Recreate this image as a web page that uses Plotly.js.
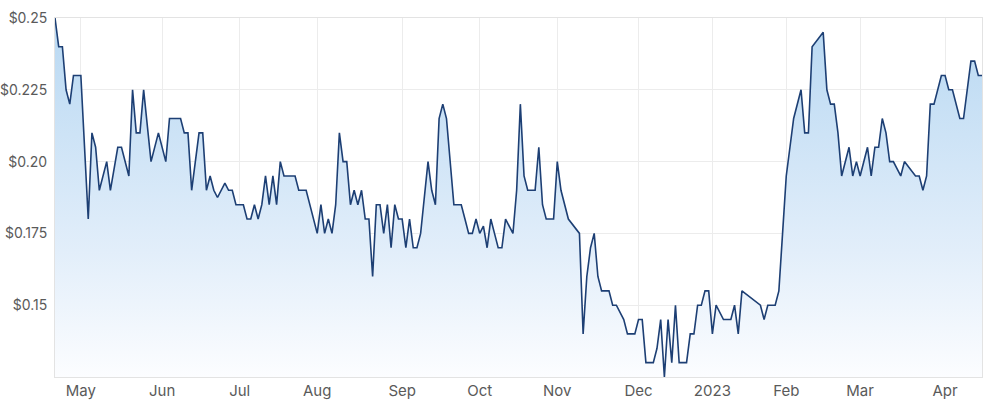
<!DOCTYPE html>
<html>
<head>
<meta charset="utf-8">
<script src="https://cdn.plot.ly/plotly-3.0.1.min.js"></script>
<style>
  html, body { margin: 0; padding: 0; background: #fff; }
  #chart { width: 1000px; height: 409px; }
</style>
</head>
<body>
<div id="chart"></div>
<script>
'use strict';
/* Share price, one year of trading days (turning points) */
var dates = [
  '2022-04-20', '2022-04-21', '2022-04-22', '2022-04-26', '2022-04-27', '2022-04-28', '2022-05-02',
  '2022-05-04', '2022-05-05', '2022-05-06', '2022-05-09', '2022-05-11', '2022-05-12', '2022-05-16',
  '2022-05-17', '2022-05-19', '2022-05-20', '2022-05-23', '2022-05-24', '2022-05-25', '2022-05-27',
  '2022-05-31', '2022-06-02', '2022-06-03', '2022-06-08', '2022-06-09', '2022-06-10', '2022-06-14',
  '2022-06-16', '2022-06-17', '2022-06-20', '2022-06-21', '2022-06-22', '2022-06-23', '2022-06-27',
  '2022-06-28', '2022-06-29', '2022-06-30', '2022-07-04', '2022-07-05', '2022-07-06', '2022-07-07',
  '2022-07-08', '2022-07-11', '2022-07-12', '2022-07-13', '2022-07-14', '2022-07-15', '2022-07-18',
  '2022-07-19', '2022-07-22', '2022-07-25', '2022-07-27', '2022-07-28', '2022-08-01', '2022-08-02',
  '2022-08-03', '2022-08-04', '2022-08-05', '2022-08-08', '2022-08-09', '2022-08-10', '2022-08-11',
  '2022-08-12', '2022-08-15', '2022-08-16', '2022-08-17', '2022-08-18', '2022-08-19', '2022-08-22',
  '2022-08-23', '2022-08-24', '2022-08-25', '2022-08-26', '2022-08-29', '2022-08-30', '2022-08-31',
  '2022-09-01', '2022-09-02', '2022-09-05', '2022-09-06', '2022-09-07', '2022-09-08', '2022-09-12',
  '2022-09-13', '2022-09-14', '2022-09-15', '2022-09-16', '2022-09-19', '2022-09-21', '2022-09-26',
  '2022-09-27', '2022-09-28', '2022-09-29', '2022-09-30', '2022-10-03', '2022-10-04', '2022-10-05',
  '2022-10-06', '2022-10-07', '2022-10-10', '2022-10-11', '2022-10-12', '2022-10-14', '2022-10-17',
  '2022-10-18', '2022-10-19', '2022-10-20', '2022-10-24', '2022-10-25', '2022-10-26', '2022-10-27',
  '2022-10-31', '2022-11-01', '2022-11-02', '2022-11-04', '2022-11-09', '2022-11-10', '2022-11-11',
  '2022-11-14', '2022-11-15', '2022-11-16', '2022-11-17', '2022-11-21', '2022-11-22', '2022-11-23',
  '2022-11-25', '2022-11-28', '2022-11-30', '2022-12-01', '2022-12-02', '2022-12-05', '2022-12-07',
  '2022-12-08', '2022-12-09', '2022-12-12', '2022-12-13', '2022-12-14', '2022-12-15', '2022-12-16',
  '2022-12-20', '2022-12-21', '2022-12-22', '2022-12-23', '2022-12-28', '2022-12-29', '2022-12-30',
  '2023-01-03', '2023-01-04', '2023-01-06', '2023-01-10', '2023-01-11', '2023-01-12', '2023-01-13',
  '2023-01-20', '2023-01-23', '2023-01-24', '2023-01-27', '2023-01-30', '2023-01-31', '2023-02-01',
  '2023-02-02', '2023-02-03', '2023-02-07', '2023-02-08', '2023-02-09', '2023-02-10', '2023-02-15',
  '2023-02-16', '2023-02-17', '2023-02-20', '2023-02-21', '2023-02-22', '2023-02-24', '2023-02-27',
  '2023-02-28', '2023-03-01', '2023-03-03', '2023-03-06', '2023-03-07', '2023-03-08', '2023-03-09',
  '2023-03-10', '2023-03-13', '2023-03-14', '2023-03-16', '2023-03-17', '2023-03-22', '2023-03-23',
  '2023-03-24', '2023-03-27', '2023-03-28', '2023-03-29', '2023-03-31', '2023-04-03', '2023-04-04',
  '2023-04-05', '2023-04-11', '2023-04-12', '2023-04-14', '2023-04-17', '2023-04-18', '2023-04-19'
];

var prices = [
  0.25, 0.24, 0.24, 0.225, 0.22, 0.23, 0.23,
  0.18, 0.21, 0.205, 0.19, 0.20, 0.19, 0.205,
  0.205, 0.195, 0.225, 0.21, 0.21, 0.225, 0.20,
  0.21, 0.20, 0.215, 0.215, 0.21, 0.21, 0.19,
  0.21, 0.21, 0.19, 0.195, 0.19, 0.1875, 0.1925,
  0.19, 0.19, 0.185, 0.185, 0.18, 0.18, 0.185,
  0.18, 0.185, 0.195, 0.185, 0.195, 0.185, 0.20,
  0.195, 0.195, 0.19, 0.19, 0.185, 0.175, 0.185,
  0.175, 0.18, 0.175, 0.185, 0.21, 0.20, 0.20,
  0.185, 0.19, 0.185, 0.19, 0.18, 0.18, 0.16,
  0.185, 0.185, 0.175, 0.185, 0.17, 0.185, 0.18,
  0.18, 0.17, 0.18, 0.17, 0.17, 0.175, 0.20,
  0.19, 0.185, 0.215, 0.22, 0.215, 0.185, 0.185,
  0.18, 0.175, 0.175, 0.18, 0.175, 0.1775, 0.17,
  0.18, 0.175, 0.17, 0.17, 0.18, 0.175, 0.19,
  0.22, 0.195, 0.19, 0.19, 0.205, 0.185, 0.18,
  0.18, 0.20, 0.19, 0.18, 0.175, 0.14, 0.16,
  0.17, 0.175, 0.16, 0.155, 0.155, 0.15, 0.15,
  0.145, 0.14, 0.14, 0.145, 0.145, 0.13, 0.13,
  0.135, 0.145, 0.125, 0.145, 0.13, 0.15, 0.13,
  0.13, 0.14, 0.14, 0.15, 0.15, 0.155, 0.155,
  0.14, 0.15, 0.145, 0.145, 0.15, 0.14, 0.155,
  0.15, 0.145, 0.15, 0.15, 0.155, 0.175, 0.195,
  0.205, 0.215, 0.225, 0.21, 0.21, 0.24, 0.245,
  0.225, 0.22, 0.22, 0.21, 0.195, 0.205, 0.195,
  0.20, 0.195, 0.205, 0.195, 0.205, 0.205, 0.215,
  0.21, 0.20, 0.20, 0.195, 0.20, 0.195, 0.195,
  0.19, 0.195, 0.22, 0.22, 0.23, 0.23, 0.225,
  0.225, 0.215, 0.215, 0.235, 0.235, 0.23, 0.23
];

/* Exchange holidays (no trading) */
var holidays = [
  '2022-04-25', '2022-06-13', '2022-09-22', '2022-12-26', '2022-12-27',
  '2023-01-02', '2023-01-26', '2023-04-07', '2023-04-10'
];

/* Axis ticks */
var month_ticks = [
  '2022-05-02', '2022-06-01', '2022-07-01', '2022-08-01', '2022-09-01', '2022-10-03',
  '2022-11-01', '2022-12-01', '2023-01-03', '2023-02-01', '2023-03-01', '2023-04-03'
];
var month_labels = ['May', 'Jun', 'Jul', 'Aug', 'Sep', 'Oct', 'Nov', 'Dec', '2023', 'Feb', 'Mar', 'Apr'];
var price_ticks = [0.15, 0.175, 0.20, 0.225, 0.25];
var price_labels = ['$0.15', '$0.175', '$0.20', '$0.225', '$0.25'];

var price_data = [
{
  x: dates,
  y: prices,
  type: 'scatter',
  mode: 'lines',
  line: { color: '#1d3f74', width: 1.6 },
  fill: 'tozeroy',
  fillgradient: {
    type: 'vertical',
    start: 0.125,
    stop: 0.25,
    colorscale: [[0, 'rgba(252,253,255,1)'], [0.35, 'rgba(226,238,250,1)'], [1, 'rgba(184,216,242,1)']]
  },
  hoverinfo: 'skip'
}];

var layout = {
  width: 1000,
  height: 409,
  margin: { l: 55, r: 18, t: 18, b: 32 },
  paper_bgcolor: '#ffffff',
  plot_bgcolor: '#ffffff',
  showlegend: false,
  font: { family: 'Inter, Roboto, sans-serif', size: 14, color: '#5a5a5a' },
  xaxis: {
    type: 'date',
    range: ['2022-04-20', '2023-04-19'],
    rangebreaks: [
      { pattern: 'day of week', bounds: [6, 1] },
      { values: holidays }
    ],
    tickmode: 'array',
    tickvals: month_ticks,
    ticktext: month_labels,
    tickfont: { size: 15 },
    ticks: '',
    showgrid: true,
    gridcolor: '#ececec',
    gridwidth: 1,
    showline: true,
    linecolor: '#e3e3e3',
    mirror: true,
    zeroline: false,
    fixedrange: true
  },
  yaxis: {
    range: [0.125, 0.25],
    tickmode: 'array',
    tickvals: price_ticks,
    ticktext: price_labels,
    ticks: '',
    ticklabelstandoff: 4,
    showgrid: true,
    gridcolor: '#ececec',
    gridwidth: 1,
    showline: true,
    linecolor: '#e3e3e3',
    mirror: true,
    zeroline: false,
    fixedrange: true
  }
};

Plotly.newPlot('chart', price_data, layout, { displayModeBar: false, staticPlot: true });
</script>
</body>
</html>
